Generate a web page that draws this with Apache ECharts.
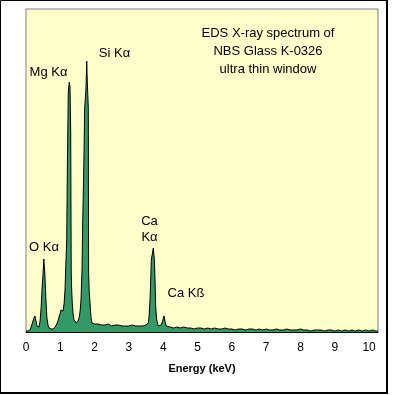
<!DOCTYPE html>
<html>
<head>
<meta charset="utf-8">
<script src="https://cdn.jsdelivr.net/npm/echarts@6/dist/echarts.min.js"></script>
<style>html,body{margin:0;padding:0;background:#fff;}#c{width:395px;height:395px;}</style>
</head>
<body>
<div id="c"></div>
<script>
// Energy (keV) of each sampled point
const energies = [
 0.00,0.03,0.06,0.09,0.12,0.15,0.18,0.21,0.24,0.26,0.29,0.32,0.35,0.38,0.41,0.44,0.47,0.50,0.52,0.55,
 0.58,0.61,0.64,0.67,0.70,0.73,0.76,0.79,0.82,0.85,0.88,0.91,0.94,0.97,1.00,1.02,1.05,1.08,1.11,1.137,
 1.166,1.187,1.204,1.233,1.262,1.283,1.303,1.318,1.332,1.35,1.370,1.399,1.43,1.46,1.49,1.52,1.554,1.58,1.603,1.633,
 1.653,1.682,1.711,1.749,1.770,1.787,1.816,1.825,1.84,1.866,1.895,1.924,1.95,2.00,2.05,2.10,2.15,2.20,2.25,2.30,
 2.35,2.40,2.45,2.50,2.55,2.60,2.65,2.70,2.75,2.80,2.85,2.90,2.95,3.00,3.05,3.10,3.15,3.20,3.25,3.30,
 3.35,3.40,3.45,3.50,3.519,3.566,3.586,3.615,3.636,3.653,3.711,3.741,3.761,3.781,3.810,3.857,3.907,3.94,3.974,4.023,
 4.061,4.09,4.120,4.2,4.3,4.4,4.5,4.6,4.7,4.8,4.9,5.0,5.1,5.2,5.3,5.4,5.5,5.6,5.7,5.8,
 5.9,6.0,6.1,6.2,6.3,6.4,6.5,6.6,6.7,6.8,6.9,7.0,7.1,7.2,7.3,7.4,7.5,7.6,7.7,7.8,
 7.9,8.0,8.1,8.2,8.3,8.4,8.5,8.6,8.7,8.8,8.9,9.0,9.1,9.2,9.3,9.4,9.5,9.6,9.7,9.8,
 9.9,10.0,10.1,10.2,10.26
];
// Counts (arbitrary units) at each energy
const counts = [
 1,1,1,2,2,4,8,12,14,16,11,6,4,5,11,24,44,60,73,58,
 33,14,7,4,3,3,4,3,4,5,6,9,12,16,19,22,20,21,28,42,
 72,92,160,240,250,245,200,60,42,28,19,12,10,9,10,11,15,22,32,62,
 110,160,224,244,271,250,224,60,42,29,14,9,8,8,7,8,8,7,8,7,
 7,8,7,6,7,7,6,7,7,6,7,6,7,6,6,7,6,6,7,6,
 5,6,6,7,7,9,15,32,52,72,84,72,52,25,12,6,6,7,10,16,
 9,6,5,5,4,5,4,5,4,4,3,4,4,3,4,3,4,3,3,4,
 3,3,2,3,3,2,3,3,2,3,2,3,2,2,3,2,2,3,2,2,
 2,3,2,2,1,2,2,2,1,2,2,1,2,1,2,1,2,1,2,1,
 2,1,2,1,1
];
const xTicks = [0,1,2,3,4,5,6,7,8,9,10];
const titleLines = ['EDS X-ray spectrum of', 'NBS Glass K-0326', 'ultra thin window'];
const peakLabels = ['Mg Kα', 'Si Kα', 'O Kα', 'Ca', 'Kα', 'Ca Kß'];

const FONT = 'Liberation Sans, Arial, sans-serif';
const chart = echarts.init(document.getElementById('c'), null, {renderer: 'canvas'});

const data = energies.map((e, i) => [e, counts[i]]);
const labelPos = [[48.5, 72], [114.5, 53], [44, 247], [149.5, 221], [149.5, 237], [186, 293]];

const graphics = [
  {type: 'rect', shape: {x: 0.5, y: 0.5, width: 386, height: 392}, style: {fill: null, stroke: '#000', lineWidth: 1}, z: 100},
  {type: 'rect', shape: {x: 386, y: 0, width: 2, height: 394}, style: {fill: '#000'}, z: 100},
  {type: 'rect', shape: {x: 0, y: 392, width: 388, height: 2}, style: {fill: '#000'}, z: 100}
];
titleLines.forEach((t, i) => {
  graphics.push({type: 'text', x: 268, y: 33 + i * 18, z: 100,
    style: {text: t, fill: '#000', font: '13px ' + FONT, textAlign: 'center', textVerticalAlign: 'middle'}});
});
peakLabels.forEach((t, i) => {
  graphics.push({type: 'text', x: labelPos[i][0], y: labelPos[i][1], z: 100,
    style: {text: t, fill: '#000', font: '13px ' + FONT, textAlign: 'center', textVerticalAlign: 'middle'}});
});

chart.setOption({
  animation: false,
  backgroundColor: '#fff',
  grid: {left: 26, top: 9, width: 352, height: 323, show: true, backgroundColor: '#FFFFCC', borderColor: '#808080', borderWidth: 1},
  xAxis: {
    type: 'value', min: 0, max: 10.26, interval: 1,
    name: 'Energy (keV)', nameLocation: 'middle', nameGap: 31,
    nameTextStyle: {fontFamily: FONT, fontSize: 11, fontWeight: 'bold', color: '#000'},
    axisLine: {show: true, lineStyle: {color: '#000', width: 1}},
    axisTick: {show: false},
    splitLine: {show: false},
    axisLabel: {color: '#000', fontFamily: FONT, fontSize: 12, margin: 10, showMaxLabel: false,
      formatter: v => xTicks.indexOf(v) >= 0 ? String(v) : ''}
  },
  yAxis: {type: 'value', min: 0, max: 323, show: false, splitLine: {show: false}},
  series: [{
    type: 'line', data: data, symbol: 'none', smooth: false,
    lineStyle: {color: '#000', width: 1},
    areaStyle: {color: '#339966', opacity: 1}
  }],
  graphic: graphics
});
</script>
</body>
</html>
